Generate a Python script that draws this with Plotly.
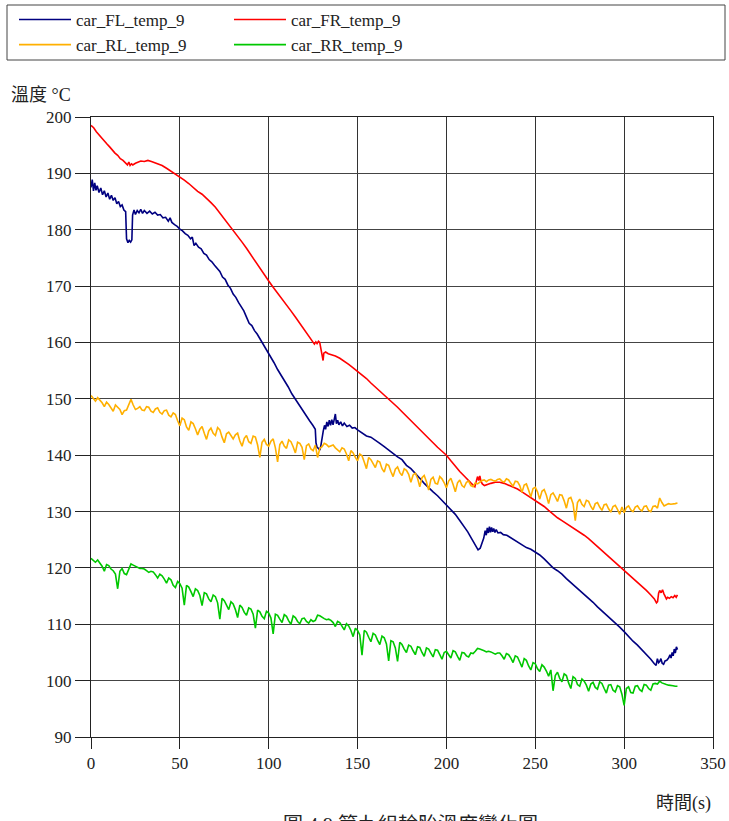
import plotly.graph_objects as go

# ---------------- data ----------------
series_names = ["car_FL_temp_9", "car_FR_temp_9", "car_RL_temp_9", "car_RR_temp_9"]
series_colors = ["#000080", "#ff0000", "#ffb000", "#00c800"]

fl_pairs = [(0,187.5),(0.7,188.9),(1.4,186.9),(2.1,188.3),(2.8,187.0),(3.5,187.8),(4.5,186.6),(5.5,187.4),
    (6.5,186.2),(7.5,186.9),(8.5,185.8),(9.5,186.5),(10.5,185.4),(11.5,186.1),(12.5,185.2),(13.5,185.7),
    (14.5,184.6),(15.5,185.0),(16.5,184.1),(17.5,184.4),(18.5,183.5),(19.5,183.2),(20.0,178.4),(20.8,177.7),
    (21.5,178.1),(22.3,177.8),(23.0,178.2),(23.4,182.6),(24.2,183.5),(25,182.7),(26,183.4),(27,183.0),
    (28,183.6),(29,182.9),(30,183.4),(31.5,182.9),(33,183.3),(34.5,182.8),(36,183.1),(37.5,182.6),
    (39,182.7),(40.5,182.1),(42,182.2),(43.5,181.5),(44.5,182.1),(45.5,181.3),(47,180.9),(48.5,180.6),
    (50,180.1),(51.5,179.8),(53,179.3),(54.5,179.0),(56,178.4),(57,178.7),(58,177.2),(59,177.6),
    (60.5,176.9),(62,176.6),(63.5,175.8),(65,175.5),(66.5,174.7),(68,174.3),(69.5,173.7),(71,173.1),
    (72.5,172.6),(74,171.6),(75.5,171.2),(77,170.2),(78.5,169.6),(80,168.6),(81.5,168.0),(83,167.1),
    (84.5,166.3),(86,165.6),(87.5,164.5),(89,163.4),(90.5,163.0),(92,162.1),(93.5,161.5),(95,160.7),
    (97,159.7),(99,158.7),(101,157.5),(103,156.4),(105,155.2),(107,154.2),(109,153.1),(111,152.1),
    (113,150.9),(115,149.9),(117,148.9),(119,147.9),(121,147.0),(123,146.1),(124.8,145.3),(126.2,144.6),
    (126.6,142.2),(127.2,141.4),(128.0,141.2),(128.8,140.9),(129.4,141.8),(130,143.4),(130.7,144.3),(131.4,145.3),
    (132,144.6),(132.7,145.9),(133.4,145.1),(134.1,146.2),(134.8,145.3),(135.5,146.3),(136.2,145.4),(136.9,146.4),
    (137.5,147.3),(138.1,145.6),(138.8,146.2),(139.5,145.4),(140.5,145.9),(141.5,145.2),(142.5,145.7),(144,145.1),
    (145.5,145.3),(147,144.8),(148.5,144.9),(150,144.5),(152.5,144.0),(155,143.4),(157.5,143.2),(160,142.7),
    (162.5,142.1),(165,141.5),(167.5,140.9),(170,140.2),(172.5,139.7),(175,139.2),(177.5,138.2),(180,137.6),
    (182.5,136.8),(185,135.9),(187.5,135.0),(190,134.2),(192.5,133.5),(195,132.8),(197.5,132.0),(200,131.2),
    (202.5,130.4),(205,129.5),(207.5,128.4),(210,127.3),(212,126.4),(214,125.3),(216,124.2),(217.8,123.2),
    (219,123.5),(220,124.4),(221,125.3),(221.8,126.6),(222.4,125.8),(223,127.1),(223.6,126.2),(224.2,127.3),
    (224.8,126.3),(225.4,127.2),(226,126.4),(226.6,127.0),(227.3,126.3),(228,126.8),(229,126.2),(230.5,126.3),
    (232,125.9),(234,125.8),(236,125.4),(238,125.1),(240,124.6),(242.5,124.1),(245,123.6),(247.5,123.3),
    (250,122.8),(252.5,122.3),(255,121.6),(257.5,120.8),(260,120.0),(262.5,119.5),(265,118.9),(267.5,118.1),
    (270,117.4),(272.5,116.8),(275,116.1),(277.5,115.4),(280,114.6),(282.5,113.9),(285,113.1),(287.5,112.4),
    (290,111.6),(292.5,110.9),(295,110.2),(297.5,109.5),(300,108.7),(302.5,107.8),(305,107.0),(307.5,106.3),
    (310,105.5),(312.5,104.6),(315,103.8),(317,103.0),(318,102.7),(318.7,103.9),(319.4,103.2),(320,103.4),
    (320.7,103.9),(321.4,103.1),(322.2,102.9),(323,103.5),(324,103.6),(325,104.0),(325.8,104.6),(326.4,104.0),
    (327,105.0),(327.6,104.4),(328.2,105.6),(328.8,104.9),(329.4,106.0),(330,105.5)]

fr_pairs = [(0,198.5),(1.5,198.1),(3,197.4),(4.5,196.8),(6,196.4),(7.5,195.8),(9,195.2),(10.5,194.7),
    (12,194.1),(13.5,193.6),(15,193.2),(16.5,192.6),(18,192.3),(19.5,191.7),(20.5,191.5),(21.3,192.0),
    (22,191.4),(22.8,191.7),(23.5,191.5),(25,191.8),(26.5,192.0),(28,192.2),(30,192.1),(32,192.3),
    (34,192.1),(36,191.9),(38,191.7),(40,191.4),(42.5,190.9),(45,190.4),(47.5,189.8),(50,189.3),
    (52.5,188.8),(55,188.2),(57.5,187.5),(60,186.8),(62.5,186.3),(65,185.6),(67.5,184.8),(70,184.0),
    (72.5,183.0),(75,182.0),(77.5,181.0),(80,180.0),(82.5,178.9),(85,177.8),(87.5,176.7),(90,175.5),
    (92.5,174.4),(95,173.3),(97.5,172.1),(100,170.9),(102.5,169.8),(105,168.8),(107.5,167.8),(110,166.8),
    (112.5,165.6),(115,164.5),(117.5,163.4),(120,162.3),(122.5,161.2),(124.8,160.2),(125.7,159.7),(126.5,160.1),
    (127.2,159.8),(128,160.2),(128.7,160.0),(129.3,159.0),(129.8,158.2),(130.2,157.0),(130.6,156.8),(131,158.1),
    (132,158.3),(133.5,158.0),(135,157.9),(137.5,157.6),(140,157.2),(142.5,156.7),(145,156.1),(147.5,155.5),
    (150,154.9),(152.5,154.3),(155,153.6),(157.5,152.8),(160,152.1),(162.5,151.4),(165,150.7),(167.5,149.9),
    (170,149.2),(172.5,148.5),(175,147.7),(177.5,146.9),(180,146.2),(182.5,145.4),(185,144.6),(187.5,143.7),
    (190,142.9),(192.5,142.2),(195,141.4),(197.5,140.7),(200,140.0),(202.5,139.0),(205,138.0),(207.5,137.1),
    (210,136.3),(212,135.6),(214,135.0),(216,134.4),(216.8,135.3),(217.5,136.2),(218.2,135.5),(218.8,136.3),
    (219.4,135.4),(220.2,134.9),(221.4,134.6),(223,134.8),(225,135.0),(227.5,135.2),(230,135.2),(232.5,135.0),
    (235,134.7),(237.5,134.4),(240,134.0),(242.5,133.5),(245,133.0),(247.5,132.5),(250,132.0),(252.5,131.4),
    (255,130.9),(257.5,130.2),(260,129.5),(262.5,128.9),(265,128.4),(267.5,127.9),(270,127.4),(272.5,126.9),
    (275,126.4),(277.5,125.8),(280,125.2),(282.5,124.5),(285,123.8),(287.5,123.1),(290,122.4),(292.5,121.7),
    (295,121.0),(297.5,120.3),(300,119.6),(302.5,118.8),(305,118.1),(307.5,117.4),(310,116.7),(312.5,116.0),
    (315,115.2),(317,114.5),(318.2,113.8),(318.8,114.0),(319.4,115.5),(320,116.0),(320.8,115.6),(321.6,116.1),
    (322.4,115.4),(323,114.9),(323.8,114.5),(324.5,114.8),(325.5,114.6),(326.5,114.9),(327.5,114.7),(328.5,115.1),
    (329.3,114.8),(330,115.2)]

# RL and RR sampled every 1.25 s (rows of 16 = 20 s)
sample_step = 1.25
rl_values = [
    150.6,150.1,149.6,150.2,149.8,149.3,148.6,149.4,149.0,148.5,147.8,148.9,148.4,148.1,147.2,147.9,
    148.0,149.0,149.9,148.9,148.1,148.3,148.6,148.0,147.9,148.6,148.5,147.8,147.6,148.2,148.4,147.6,
    147.3,147.9,148.0,147.1,146.8,147.5,147.2,146.1,145.2,146.6,146.3,145.0,144.4,145.9,145.6,144.7,
    143.6,144.6,145.1,143.9,142.8,144.3,144.8,143.9,143.5,144.9,144.5,143.2,142.2,143.8,144.1,143.5,
    142.9,143.6,143.9,142.5,141.6,143.0,143.5,142.4,142.1,143.4,143.2,141.8,139.6,142.3,142.8,141.9,
    141.6,142.5,142.9,141.3,138.8,141.9,142.5,141.6,141.2,142.7,142.4,141.5,140.4,142.3,142.1,141.4,
    139.2,141.7,142.0,141.1,140.8,141.8,139.6,141.2,141.5,142.1,141.9,141.5,141.6,141.8,141.3,140.9,
    140.6,141.3,141.1,140.2,139.0,140.8,140.4,139.6,139.0,140.2,139.9,138.8,137.6,139.6,139.2,138.5,
    137.8,139.0,138.8,137.6,137.0,138.4,138.2,137.1,136.2,137.5,137.9,136.9,136.4,137.6,137.3,136.6,
    135.2,136.5,136.8,135.9,134.4,136.0,136.4,135.3,133.8,135.7,136.1,135.0,134.9,136.2,135.8,135.1,
    134.2,135.4,135.9,134.8,133.5,135.1,135.6,134.6,134.3,135.2,135.4,134.6,134.4,135.1,134.9,135.2,
    135.5,135.6,135.3,135.6,135.7,135.5,135.4,135.7,135.8,135.4,135.2,135.8,135.6,135.0,134.5,135.4,
    135.3,134.6,133.4,134.7,134.9,133.8,132.6,134.1,134.3,133.5,132.2,133.6,133.9,132.9,131.4,133.0,
    133.3,132.6,131.8,133.0,132.9,131.9,130.6,132.3,132.5,131.4,128.4,131.6,132.2,131.3,130.9,132.0,
    131.8,130.9,130.3,131.4,131.6,130.8,130.2,131.2,131.3,130.5,129.9,130.9,131.1,130.4,129.5,130.8,
    129.8,130.7,131.0,130.3,130.0,130.8,131.0,130.4,130.1,130.9,131.0,130.2,130.0,130.9,131.0,130.6,
    132.4,131.6,131.0,131.2,131.4,131.3,131.3,131.4,131.5]

rr_values = [
    121.7,121.3,121.0,121.4,120.9,120.3,119.4,120.6,120.4,119.8,119.5,118.9,116.3,119.4,119.9,119.0,
    118.8,119.8,120.7,120.5,120.3,120.1,119.9,119.9,119.8,119.5,119.2,119.4,119.3,118.8,118.2,118.9,
    118.6,118.0,117.3,118.2,117.9,116.9,116.5,117.6,117.2,116.4,113.4,116.9,116.6,115.8,114.9,116.3,
    116.0,115.1,113.3,115.6,115.4,114.5,114.0,115.2,114.9,113.8,110.9,114.6,114.2,113.4,112.6,114.0,
    113.6,112.6,111.2,113.4,113.0,112.1,111.6,112.9,112.7,111.8,109.3,112.5,112.2,111.4,111.0,112.3,
    112.0,111.1,108.3,111.8,111.6,110.9,110.3,111.7,111.4,110.6,110.0,111.5,111.2,110.5,110.1,111.0,
    111.1,110.5,110.2,110.8,110.5,110.7,111.6,111.5,111.2,111.0,110.8,110.9,110.7,110.3,109.6,110.5,
    110.3,109.6,109.0,110.1,109.7,108.9,107.8,109.3,108.9,108.1,104.5,108.9,108.6,107.7,106.9,108.4,
    108.1,107.2,106.4,107.9,107.6,106.5,103.5,107.1,106.9,105.8,103.4,106.8,106.4,105.6,105.0,106.3,
    106.1,105.3,104.6,106.0,105.9,105.0,104.3,105.8,105.6,104.9,104.2,105.5,105.4,104.6,103.8,105.0,
    105.2,104.6,104.0,105.3,105.1,104.3,103.6,105.0,104.9,104.4,104.2,104.9,104.8,105.2,105.7,105.6,
    105.5,105.3,105.1,105.2,105.1,104.9,104.7,104.9,104.9,104.4,103.8,104.8,104.6,104.0,103.2,104.4,
    104.2,103.3,102.4,103.9,103.6,102.6,101.9,103.2,103.0,102.1,101.6,102.8,102.4,101.7,100.8,101.9,
    98.2,100.9,101.5,100.4,99.8,101.2,100.9,99.6,98.6,100.7,100.4,99.3,99.0,100.3,99.9,99.2,
    98.1,99.4,99.7,98.8,98.5,99.8,99.5,98.6,97.8,99.2,99.3,98.3,98.0,99.1,98.9,97.6,
    95.6,98.6,98.9,97.9,97.8,99.0,99.1,98.4,98.1,99.3,99.2,98.6,98.3,99.4,99.5,99.4,
    99.9,99.6,99.4,99.3,99.2,99.2,99.1,99.0,99.0]

x_ticks = [0, 50, 100, 150, 200, 250, 300, 350]
y_ticks = [90, 100, 110, 120, 130, 140, 150, 160, 170, 180, 190, 200]

fl_t = [p[0] for p in fl_pairs]
fl_v = [p[1] for p in fl_pairs]
fr_t = [p[0] for p in fr_pairs]
fr_v = [p[1] for p in fr_pairs]
rl_t = [i * sample_step for i in range(len(rl_values))]
rr_t = [i * sample_step for i in range(len(rr_values))]

xs = [fl_t, fr_t, rl_t, rr_t]
ys = [fl_v, fr_v, rl_values, rr_values]

# ---------------- figure ----------------
W, H = 729, 821
L, R, T, B = 91, 16, 117, 84
pw, ph = W - L - R, H - T - B

def px_x(p):
    return (p - L) / pw

def px_y(p):
    return (H - B - p) / ph

SERIF = "Liberation Serif, Times New Roman, serif"
CJK = "Liberation Serif, Noto Sans CJK TC, serif"

fig = go.Figure()
for name, col, x, y in zip(series_names, series_colors, xs, ys):
    fig.add_trace(go.Scatter(x=x, y=y, mode="lines", name=name,
                             line=dict(color=col, width=1.6)))

fig.update_layout(
    width=W, height=H,
    margin=dict(l=L, r=R, t=T, b=B, autoexpand=False),
    paper_bgcolor="white", plot_bgcolor="white",
    font=dict(family=SERIF, size=16, color="#222"),
    showlegend=True,
    legend=dict(orientation="h", xref="container", yref="container",
                x=14 / W, y=1 - 2 / H, xanchor="left", yanchor="top",
                entrywidth=148, entrywidthmode="pixels", itemwidth=52,
                font=dict(family=SERIF, size=17, color="#222"),
                bgcolor="rgba(0,0,0,0)", tracegroupgap=0),
    xaxis=dict(range=[0, 350], tickvals=x_ticks, ticktext=[str(v) for v in x_ticks],
               showgrid=True, gridcolor="#333", gridwidth=1,
               showline=True, linecolor="#222", linewidth=1, mirror=True,
               ticks="outside", ticklen=11, tickcolor="#222",
               zeroline=False, tickfont=dict(family=SERIF, size=17, color="#222")),
    yaxis=dict(range=[90, 200], tickvals=y_ticks, ticktext=[str(v) for v in y_ticks],
               showgrid=True, gridcolor="#444", gridwidth=1,
               showline=True, linecolor="#222", linewidth=1, mirror=True,
               ticks="outside", ticklen=15, tickcolor="#222",
               zeroline=False, tickfont=dict(family=SERIF, size=17, color="#222")),
)

# legend frame spanning the page width
fig.add_shape(type="rect", xref="paper", yref="paper",
              x0=px_x(7), x1=px_x(725), y0=px_y(60), y1=px_y(5),
              line=dict(color="#444", width=1), fillcolor="rgba(0,0,0,0)", layer="above")

# axis titles
fig.add_annotation(text="溫度 °C", xref="paper", yref="paper",
                   x=px_x(9), y=px_y(95), xanchor="left", yanchor="middle",
                   showarrow=False, font=dict(family=CJK, size=18, color="#222"))
fig.add_annotation(text="時間(s)", xref="paper", yref="paper",
                   x=px_x(713), y=px_y(803), xanchor="right", yanchor="middle",
                   showarrow=False, font=dict(family=CJK, size=18, color="#222"))
# caption, cut off by the page bottom as in the reference
fig.add_annotation(text="圖 4.9 第九組輪胎溫度變化圖", xref="paper", yref="paper",
                   x=px_x(410), y=px_y(812), xanchor="center", yanchor="top",
                   showarrow=False, font=dict(family=CJK, size=20, color="#222"))

fig.write_html("out.html")
